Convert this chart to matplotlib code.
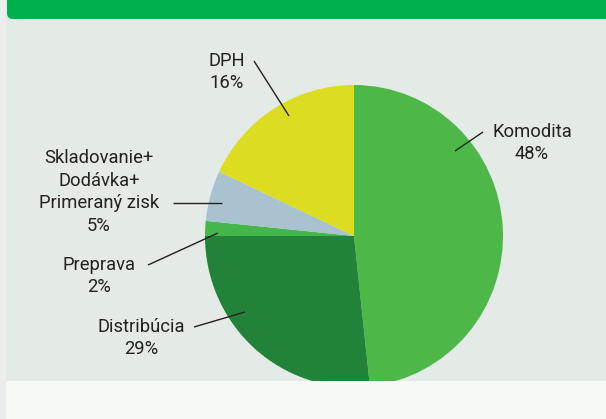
import matplotlib
matplotlib.use("Agg")
import matplotlib.pyplot as plt
from matplotlib.patches import Rectangle, FancyBboxPatch

# ---- data ----
categories = ["Komodita", "Distribúcia", "Preprava", "Skladovanie+\nDodávka+\nPrimeraný zisk", "DPH"]
label_pct = [48, 29, 2, 5, 16]
# slice shares as drawn in the picture (percent)
shares = [48.3, 26.7, 1.6, 5.4, 18.0]
colors = ["#4db848", "#23823a", "#45b649", "#a8c3cf", "#dcdc20"]

W, H = 606, 419
fig = plt.figure(figsize=(W / 100, H / 100), dpi=100)
fig.patch.set_facecolor("#f7f9f4")

bg = fig.add_axes([0, 0, 1, 1])
bg.set_xlim(0, W)
bg.set_ylim(H, 0)
bg.axis("off")
bg.set_zorder(0)

# backgrounds
bg.add_patch(Rectangle((0, 0), W, 381, facecolor="#e4eae5", edgecolor="none"))
bg.add_patch(Rectangle((0, 381), W, H - 381, facecolor="#f7f9f4", edgecolor="none"))
bg.add_patch(Rectangle((0, 0), 6, H, facecolor="#ededed", edgecolor="none"))
bg.add_patch(FancyBboxPatch((7, -20), W, 39, boxstyle="round,pad=0,rounding_size=6",
                            facecolor="#00b04f", edgecolor="none"))

# pie axes
cx, cy, rx, ry = 354, 236, 149, 151
pax = fig.add_axes([(cx - rx) / W, (H - cy - ry) / H, 2 * rx / W, 2 * ry / H])
pax.set_zorder(1)
pax.pie(shares, colors=colors, startangle=90, counterclock=False, radius=1,
        wedgeprops=dict(linewidth=0))
pax.set_aspect("auto")
pax.set_xlim(-1, 1)
pax.set_ylim(-1, 1)
pax.axis("off")

# overlay for clipping bottom + texts
ov = fig.add_axes([0, 0, 1, 1])
ov.set_xlim(0, W)
ov.set_ylim(H, 0)
ov.axis("off")
ov.set_zorder(2)
ov.patch.set_alpha(0)
ov.add_patch(Rectangle((6, 381), W, H - 381, facecolor="#f7f9f4", edgecolor="none"))

fs = 13.2
tc = "#222222"
font = "Roboto"

# label placements (pixel coords): text center, line start, line end
placements = {
    "Komodita": ((532, 143), (483, 132), (455, 151)),
    "Distribúcia": ((141, 338), (194, 327), (245, 312)),
    "Preprava": ((99, 276), (148, 265), (218, 233)),
    "Skladovanie+\nDodávka+\nPrimeraný zisk": ((99, 192), (173, 203), (222, 203)),
    "DPH": ((227, 72), (254, 61), (289, 116)),
}

for cat, pct in zip(categories, label_pct):
    (tx, ty), p0, p1 = placements[cat]
    ov.text(tx, ty, f"{cat}\n{pct}%", ha="center", va="center", fontsize=fs,
            color=tc, family=font, linespacing=1.32)
    ov.plot([p0[0], p1[0]], [p0[1], p1[1]], color=tc, lw=1.0, solid_capstyle="butt")

fig.savefig("out.png", dpi=100, facecolor=fig.get_facecolor())
